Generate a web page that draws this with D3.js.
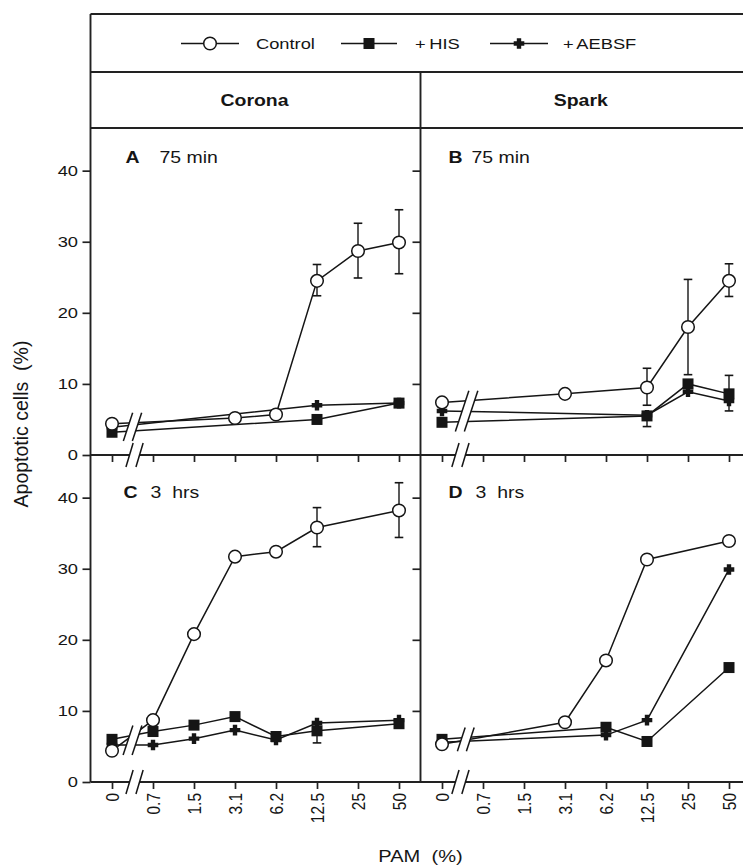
<!DOCTYPE html>
<html>
<head>
<meta charset="utf-8">
<script src="https://cdn.jsdelivr.net/npm/d3@7"></script>
<style>
  body { margin: 0; background: #fff; }
  svg { display: block; }
  text { font-family: "Liberation Sans", Arial, Helvetica, sans-serif; fill: #151515; white-space: pre; }
</style>
</head>
<body>
<svg id="chart" width="743" height="866"></svg>
<script>
// PAM concentrations (%) on the x axis, drawn as equally spaced categories
const categories = ["0", "0.7", "1.5", "3.1", "6.2", "12.5", "25", "50"];
const yTicks = [0, 10, 20, 30, 40];
const legendLabels = ["Control", "+ HIS", "+ AEBSF"];
const columnTitles = ["Corona", "Spark"];
const panelLetters = ["A", "B", "C", "D"];
const panelTimes = ["75 min", "75 min", "3  hrs", "3  hrs"];

// A: Corona, 75 min
const controlA    = [4.4, null, null, 5.2, 5.7, 24.5, 28.7, 29.9];
const controlA_hi = [null, null, null, null, null, 26.8, 32.6, 34.5];
const controlA_lo = [null, null, null, null, null, 22.4, 24.9, 25.5];
const hisA        = [3.2, null, null, null, null, 5.0, null, 7.3];
const aebsfA      = [3.9, null, null, null, null, 7.0, null, 7.3];

// B: Spark, 75 min
const controlB    = [7.4, null, null, 8.6, null, 9.5, 18.0, 24.5];
const controlB_hi = [null, null, null, null, null, 12.2, 24.7, 26.9];
const controlB_lo = [null, null, null, null, null, 7.0, 11.3, 22.3];
const hisB        = [4.6, null, null, null, null, 5.5, 10.0, 8.6];
const hisB_hi     = [null, null, null, null, null, null, null, 11.2];
const hisB_lo     = [null, null, null, null, null, 4.0, null, 6.2];
const aebsfB      = [6.2, null, null, null, null, 5.6, 8.9, 7.6];

// C: Corona, 3 hrs
const controlC    = [4.4, 8.7, 20.8, 31.7, 32.4, 35.8, null, 38.2];
const controlC_hi = [null, null, null, null, null, 38.6, null, 42.1];
const controlC_lo = [null, null, null, null, null, 33.1, null, 34.4];
const hisC        = [6.0, 7.1, 8.0, 9.2, 6.4, 7.2, null, 8.2];
const hisC_lo     = [null, null, null, null, null, 5.5, null, null];
const aebsfC      = [5.2, 5.2, 6.1, 7.3, 5.9, 8.3, null, 8.7];

// D: Spark, 3 hrs
const controlD    = [5.3, null, null, 8.4, 17.1, 31.3, null, 33.9];
const hisD        = [6.0, null, null, null, 7.7, 5.7, null, 16.1];
const aebsfD      = [5.6, null, null, null, 6.6, 8.7, null, 29.9];

const panels = [
  { col: 0, row: 0, series: [
      { type: "aebsf", values: aebsfA },
      { type: "his", values: hisA },
      { type: "control", values: controlA, hi: controlA_hi, lo: controlA_lo } ] },
  { col: 1, row: 0, series: [
      { type: "aebsf", values: aebsfB },
      { type: "his", values: hisB, hi: hisB_hi, lo: hisB_lo },
      { type: "control", values: controlB, hi: controlB_hi, lo: controlB_lo } ] },
  { col: 0, row: 1, series: [
      { type: "aebsf", values: aebsfC },
      { type: "his", values: hisC, lo: hisC_lo },
      { type: "control", values: controlC, hi: controlC_hi, lo: controlC_lo } ] },
  { col: 1, row: 1, series: [
      { type: "aebsf", values: aebsfD },
      { type: "his", values: hisD },
      { type: "control", values: controlD } ] }
];

// ---- layout ----
const W = 743, H = 866;
const SX = 1.18;                 // the lettering is set slightly wide
const frameLeft = 90.5, frameTop = 14, legendBottom = 72, headerBottom = 128;
const panelW = 330, panelH = 327;
const colLeft = [frameLeft, frameLeft + panelW];
const rowTop = [headerBottom, headerBottom + panelH];
const INK = "#151515";
// where the "//" breaks sit between the first two categories (fraction of a step)
const dataBreakAt = [0.5, 0.6, 0.5, 0.58];
const axisBreakAt = [0.55, 0.45, 0.55, 0.45];

const svg = d3.select("#chart");

const x = d3.scalePoint().domain(categories).range([21.5, 308.5]);
const y = d3.scaleLinear().domain([0, 46]).range([panelH, 0]);
const step = x.step();

function stretch(sel, tx, ty) {
  sel.attr("transform", `translate(${tx},${ty}) scale(${SX},1)`);
}

// ---- frame ----
const frame = svg.append("g").attr("stroke", "#222").attr("stroke-width", 1.9).attr("fill", "none");
[frameTop, legendBottom, headerBottom, rowTop[1], rowTop[1] + panelH].forEach(yy => {
  frame.append("line").attr("x1", frameLeft).attr("x2", W + 2).attr("y1", yy).attr("y2", yy);
});
frame.append("line").attr("x1", frameLeft).attr("x2", frameLeft).attr("y1", frameTop).attr("y2", rowTop[1] + panelH);
frame.append("line").attr("x1", colLeft[1]).attr("x2", colLeft[1]).attr("y1", legendBottom).attr("y2", rowTop[1] + panelH);

function drawMarker(g, type, cx, cy) {
  if (type === "control") {
    g.append("circle").attr("cx", cx).attr("cy", cy).attr("r", 6.3)
      .attr("fill", "#fff").attr("stroke", INK).attr("stroke-width", 1.5);
  } else if (type === "his") {
    const s = 11;
    g.append("rect").attr("x", cx - s / 2).attr("y", cy - s / 2).attr("width", s).attr("height", s)
      .attr("fill", INK);
  } else {
    const a = 5.3, w = 2.2;
    g.append("path").attr("fill", INK).attr("d",
      `M${cx - w},${cy - a}H${cx + w}V${cy - w}H${cx + a}V${cy + w}H${cx + w}V${cy + a}H${cx - w}V${cy + w}H${cx - a}V${cy - w}H${cx - w}Z`);
  }
}

function breakMark(g, cx, cy, h, d, k) {
  g.append("path").attr("fill", "#fff").attr("d",
    `M${cx - d - k * h},${cy + h}L${cx - d + k * h},${cy - h}L${cx + d + k * h},${cy - h}L${cx + d - k * h},${cy + h}Z`);
  [-d, d].forEach(o => {
    g.append("line").attr("x1", cx + o - k * h).attr("y1", cy + h).attr("x2", cx + o + k * h).attr("y2", cy - h)
      .attr("stroke", INK).attr("stroke-width", 1.5);
  });
}

// ---- legend ----
const legendY = 43.5;
const legendItems = [
  { type: "control", x0: 181, x1: 239, tx: 256 },
  { type: "his", x0: 341, x1: 397, tx: 415 },
  { type: "aebsf", x0: 490, x1: 548, tx: 563 }
];
const legend = svg.append("g");
legendItems.forEach((it, i) => {
  legend.append("line").attr("x1", it.x0).attr("x2", it.x1).attr("y1", legendY).attr("y2", legendY)
    .attr("stroke", INK).attr("stroke-width", 1.6);
  drawMarker(legend, it.type, (it.x0 + it.x1) / 2, legendY);
  legend.append("text").text(legendLabels[i]).attr("font-size", 15.5).attr("dy", "0.36em")
    .attr("word-spacing", i === 0 ? null : -1.2)
    .call(stretch, it.tx, legendY);
});

// ---- column titles ----
columnTitles.forEach((t, i) => {
  const cx = i === 0 ? colLeft[0] + panelW / 2 : (colLeft[1] + W) / 2;
  svg.append("text").text(t).attr("font-size", 16.5).attr("font-weight", "bold")
    .attr("text-anchor", "middle").call(stretch, cx - 1, 106);
});

// ---- panels ----
panels.forEach((p, pi) => {
  const g = svg.append("g").attr("transform", `translate(${colLeft[p.col]},${rowTop[p.row]})`);

  // y axis: labelled in the left column, ticks only in the right column
  const yAxis = d3.axisLeft(y).tickSizeOuter(0).tickSizeInner(8).tickPadding(4)
    .tickValues(p.col === 0 ? yTicks : yTicks.slice(1))
    .tickFormat(p.col === 0 ? d3.format("d") : () => "");
  const ya = g.append("g").call(yAxis);
  ya.select(".domain").remove();
  ya.selectAll(".tick line").attr("stroke", "#222").attr("stroke-width", 1.7);
  ya.selectAll(".tick text").attr("font-size", 15.5).attr("fill", INK)
    .attr("font-family", null)
    .attr("x", -12.5 / SX).attr("transform", `scale(${SX},1)`);

  // x axis along the panel's bottom edge
  const xAxis = d3.axisBottom(x).tickSizeOuter(0).tickSizeInner(7)
    .tickFormat(p.row === 1 ? (d => d) : () => "");
  const xa = g.append("g").attr("transform", `translate(0,${panelH})`).call(xAxis);
  xa.select(".domain").remove();
  xa.selectAll(".tick line").attr("stroke", "#222").attr("stroke-width", 1.7);
  xa.selectAll(".tick text").attr("font-size", 15.5).attr("fill", INK).attr("font-family", null)
    .attr("x", -11).attr("y", 0).attr("dy", "0.36em").attr("text-anchor", "end")
    .attr("transform", `scale(${SX},1) rotate(-90)`);

  // data lines
  const line = d3.line().x(d => x(d.c)).y(d => y(d.v));
  const crossing = [];
  const bx = x(categories[0]) + dataBreakAt[pi] * step;
  p.series.forEach(s => {
    const pts = s.values.map((v, i) => ({ c: categories[i], v, i })).filter(d => d.v !== null);
    g.append("path").datum(pts).attr("d", line).attr("fill", "none")
      .attr("stroke", INK).attr("stroke-width", 1.5);
    if (pts.length > 1 && pts[0].i === 0) {
      const x0 = x(pts[0].c), x1 = x(pts[1].c), y0 = y(pts[0].v), y1 = y(pts[1].v);
      crossing.push(y0 + (y1 - y0) * (bx - x0) / (x1 - x0));
    }
  });

  // axis break on the lower edge and the matching break in the data lines
  breakMark(g, x(categories[0]) + axisBreakAt[pi] * step, panelH, 12, 5, 0.3);
  if (crossing.length) {
    const lo = d3.min(crossing), hi = d3.max(crossing);
    breakMark(g, bx, (lo + hi) / 2, (hi - lo) / 2 + 10, 4.5, 0.33);
  }

  // error bars
  p.series.forEach(s => {
    s.values.forEach((v, i) => {
      if (v === null) return;
      const cx = x(categories[i]);
      [s.hi, s.lo].forEach(arr => {
        if (!arr || arr[i] === null || arr[i] === undefined) return;
        g.append("line").attr("x1", cx).attr("x2", cx).attr("y1", y(v)).attr("y2", y(arr[i]))
          .attr("stroke", INK).attr("stroke-width", 1.4);
        g.append("line").attr("x1", cx - 4.3).attr("x2", cx + 4.3).attr("y1", y(arr[i])).attr("y2", y(arr[i]))
          .attr("stroke", INK).attr("stroke-width", 1.6);
      });
    });
  });

  // markers
  p.series.forEach(s => {
    s.values.forEach((v, i) => {
      if (v === null) return;
      drawMarker(g, s.type, x(categories[i]), y(v));
    });
  });

  // panel label
  const lx = [35, 28, 33, 28][pi];
  const tx = [69, 51, 60, 55][pi];
  const ly = p.row === 0 ? 35 : 42.5;
  g.append("text").text(panelLetters[pi]).attr("font-size", 16.5).attr("font-weight", "bold")
    .call(stretch, lx, ly);
  g.append("text").text(panelTimes[pi]).attr("font-size", 16.5).call(stretch, tx, ly);
});

// ---- axis titles ----
svg.append("text").text("Apoptotic cells  (%)").attr("font-size", 19.5).attr("text-anchor", "middle")
  .attr("transform", `translate(28,424) scale(1.08,1) rotate(-90)`);
svg.append("text").text("PAM  (%)").attr("font-size", 17).attr("text-anchor", "middle")
  .call(stretch, colLeft[1], 862);
</script>
</body>
</html>
